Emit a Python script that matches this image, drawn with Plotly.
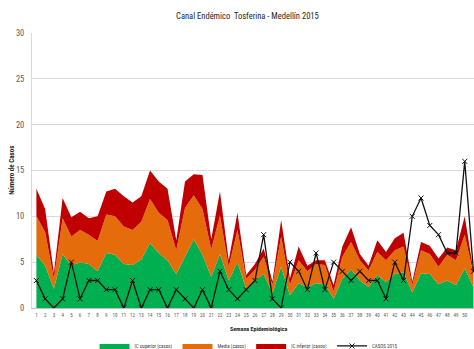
import plotly.graph_objects as go

# Epidemiological weeks shown on the category axis
weeks = list(range(1, 52))

# Upper boundary of each band of the endemic channel (cumulative values, cases)
ic_superior = [5.8, 4.6, 2.1, 5.9, 4.6, 5.0, 4.8, 4.0, 6.0, 5.8,
               4.8, 4.7, 5.3, 7.1, 6.0, 5.2, 3.7, 5.6, 7.5, 5.8,
               3.4, 5.9, 3.0, 5.0, 2.1, 3.0, 3.7, 1.6, 4.5, 1.4,
               2.7, 2.3, 2.7, 2.6, 1.0, 3.2, 4.2, 3.0, 2.3, 3.6,
               2.8, 3.7, 3.9, 1.7, 3.8, 3.7, 2.6, 3.0, 2.5, 4.3,
               2.3]
media = [10.0, 8.3, 3.2, 9.8, 7.8, 8.5, 8.0, 7.3, 10.2, 10.0,
         8.9, 8.5, 9.4, 11.9, 10.4, 9.6, 6.3, 10.9, 12.3, 10.8,
         6.4, 10.1, 4.5, 8.5, 3.2, 4.15, 5.6, 2.5, 7.8, 2.5,
         5.2, 4.0, 4.8, 4.7, 1.8, 5.6, 7.2, 5.2, 4.1, 6.1,
         5.2, 6.3, 6.7, 2.5, 6.3, 5.9, 4.5, 5.8, 5.2, 8.0,
         3.7]
ic_inferior = [13.0, 10.8, 3.8, 12.0, 9.9, 10.5, 9.8, 10.0, 12.7, 13.0,
               12.2, 11.5, 12.2, 15.0, 13.8, 13.0, 7.4, 13.8, 14.6, 14.5,
               7.5, 12.7, 5.2, 10.4, 3.6, 4.8, 6.5, 2.9, 9.6, 3.2,
               6.7, 4.6, 5.2, 5.2, 2.5, 6.7, 8.8, 5.9, 4.6, 7.4,
               6.1, 7.6, 8.2, 2.9, 7.2, 6.8, 5.4, 6.6, 6.3, 10.0,
               4.0]

# Observed cases in 2015
casos_2015 = [3, 1, 0, 1, 5, 1, 3, 3, 2, 2,
              0, 3, 0, 2, 2, 0, 2, 1, 0, 2,
              0, 4, 2, 1, 2, 3, 8, 1, 0, 5,
              4, 2, 6, 2, 5, 4, 3, 4, 3, 3,
              1, 5, 3, 10, 12, 9, 8, 6, 6, 16,
              4]

FONT = "Liberation Sans Narrow, Roboto Condensed, DejaVu Sans Condensed, Arial Narrow, sans-serif"
GREEN = "#00B050"
ORANGE = "#E46C0A"
RED = "#C00000"

fig = go.Figure()
fig.add_trace(go.Scatter(x=weeks, y=ic_superior, name="IC superior (casos)",
                         mode="lines", line=dict(width=0, color=GREEN),
                         fill="tozeroy", fillcolor=GREEN))
fig.add_trace(go.Scatter(x=weeks, y=media, name="Media (casos)",
                         mode="lines", line=dict(width=0, color=ORANGE),
                         fill="tonexty", fillcolor=ORANGE))
fig.add_trace(go.Scatter(x=weeks, y=ic_inferior, name="IC inferior (casos)",
                         mode="lines", line=dict(width=0, color=RED),
                         fill="tonexty", fillcolor=RED))
fig.add_trace(go.Scatter(x=weeks, y=casos_2015, name="CASOS 2015",
                         mode="lines+markers",
                         line=dict(width=1.3, color="#111111"),
                         marker=dict(symbol="x-thin", size=5,
                                     line=dict(width=1, color="#111111"))))

fig.update_layout(
    width=474, height=349,
    margin=dict(l=32, r=0, t=33, b=41, autoexpand=False),
    paper_bgcolor="white", plot_bgcolor="white",
    font=dict(family=FONT, color="#595959"),
    title=dict(text="Canal Endémico  Tosferina - Medellín 2015",
               x=0.522, xref="container", xanchor="center",
               y=0.955, yref="container", yanchor="middle",
               font=dict(family=FONT, size=8.5, color="#262626")),
    showlegend=True,
    legend=dict(orientation="h", x=0.49, xanchor="center",
                y=-0.138, yanchor="middle", traceorder="normal",
                font=dict(family=FONT, size=5, color="#404040"),
                itemwidth=30, tracegroupgap=0,
                bgcolor="rgba(0,0,0,0)"),
    xaxis=dict(range=[0.497, 51.06], tickmode="array", tickvals=weeks,
               ticktext=[str(w) for w in weeks], tickangle=0,
               tickfont=dict(size=5, color="#595959"),
               showgrid=False, zeroline=False, automargin=False,
               showline=True, linecolor="#BFBFBF", linewidth=1,
               ticks="", ticklabelstandoff=2),
    yaxis=dict(range=[0, 30], dtick=5, tickfont=dict(size=8.5, color="#595959"),
               gridcolor="#D9D9D9", gridwidth=1, zeroline=False,
               automargin=False,
               showline=True, linecolor="#D9D9D9", linewidth=1,
               ticks="", ticklabelstandoff=5),
    annotations=[
        dict(text="<b>Número de Casos</b>", xref="paper", yref="paper",
             x=-0.047, y=0.5, textangle=-90, showarrow=False,
             xanchor="center", yanchor="middle",
             font=dict(family=FONT, size=7, color="#262626")),
        dict(text="<b>Semana Epidemiológica</b>", xref="paper", yref="paper",
             x=0.514, y=-0.073, showarrow=False,
             xanchor="center", yanchor="middle",
             font=dict(family=FONT, size=6, color="#262626")),
    ],
)

fig.write_html("out.html")
